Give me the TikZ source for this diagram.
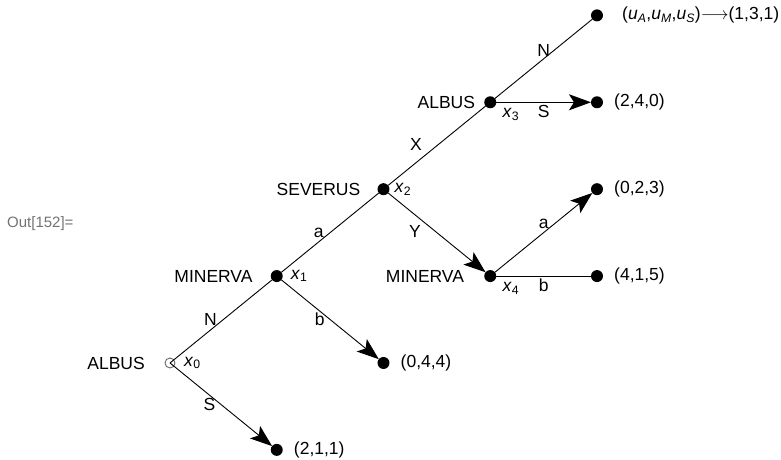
\documentclass[tikz,border=0pt]{standalone}
\usepackage{fontspec}
\setmainfont{Liberation Sans}
\usetikzlibrary{arrows.meta,positioning}

\newcommand{\xk}[1]{\textit{x}\textsubscript{#1}}
\newcommand{\uk}[1]{\textit{u}\textsubscript{\textit{#1}}}

\begin{document}
\begin{tikzpicture}[x=106.75pt, y=86.9pt,
  font=\fontsize{17.5}{21}\selectfont,
  dot/.style={circle, fill=black, inner sep=0pt, outer sep=0pt, minimum size=12pt},
  root/.style={circle, draw=black!60, line width=0.9pt, inner sep=0pt, outer sep=0pt, minimum size=10pt},
  edge/.style={line width=0.9pt},
  move/.style={edge, -{Stealth[length=22pt, width=16pt, inset=5pt]}},
  elbl/.style={inner sep=0pt},
  xlbl/.style={inner sep=0pt},
  player/.style={inner sep=0pt},
  payoff/.style={inner sep=0pt}]

  \useasboundingbox (-1.5925,-1.1162) rectangle (5.7237,4.177);

  \node[anchor=west, text=black!55, inner sep=0pt, font=\fontsize{15}{18}\selectfont] (out) at (-1.527,1.6) {Out[152]=};

  % decision nodes
  \node[root] (x0) at (0,0) {};
  \node[dot] (x1) at (1,1) {};
  \node[dot] (x2) at (2,2) {};
  \node[dot] (x3) at (3,3) {};
  \node[dot] (x4) at (3,1) {};

  % terminal nodes
  \node[dot] (t131) at (4,4) {};
  \node[dot] (t240) at (4,3) {};
  \node[dot] (t023) at (4,2) {};
  \node[dot] (t415) at (4,1) {};
  \node[dot] (t044) at (2,0) {};
  \node[dot] (t211) at (1,-1) {};

  % who moves
  \node[player, left=20pt of x0] (p0) {ALBUS};
  \node[player, left=18pt of x1] (p1) {MINERVA};
  \node[player, left=17pt of x2] (p2) {SEVERUS};
  \node[player, left=9pt of x3] (p3) {ALBUS};
  \node[player, left=20pt of x4] (p4) {MINERVA};

  \node[xlbl, right=9pt of x0] (l0) {\xk{0}};
  \node[xlbl, right=8pt of x1] (l1) {\xk{1}};
  \node[xlbl, right=5pt of x2] (l2) {\xk{2}};
  \node[xlbl, below right=2pt and 8pt of x3] (l3) {\xk{3}};
  \node[xlbl, below right=2pt and 8pt of x4] (l4) {\xk{4}};

  % payoffs
  \node[payoff, right=19pt of t131] (u131) {(\uk{A},\uk{M},\uk{S})$\longrightarrow$(1,3,1)};
  \node[payoff, right=11pt of t240] (u240) {(2,4,0)};
  \node[payoff, right=11pt of t023] (u023) {(0,2,3)};
  \node[payoff, right=11pt of t415] (u415) {(4,1,5)};
  \node[payoff, right=11pt of t044] (u044) {(0,4,4)};
  \node[payoff, right=11pt of t211] (u211) {(2,1,1)};

  % moves
  \draw[edge] (x0.center) -- node[elbl, xshift=-10.5pt, yshift=1.5pt] (m0N) {N} (x1);
  \draw[move] (x0.center) -- node[elbl, xshift=-11.5pt] (m0S) {S} (t211);
  \draw[edge] (x1) -- node[elbl, xshift=-11.5pt] (m1a) {a} (x2);
  \draw[move] (x1) -- node[elbl, xshift=-10.5pt] (m1b) {b} (t044);
  \draw[edge] (x2) -- node[elbl, xshift=-21pt, yshift=1.5pt] (m2X) {X} (x3);
  \draw[move] (x2) -- node[elbl, xshift=-22pt, yshift=1.5pt] (m2Y) {Y} (x4);
  \draw[edge] (x3) -- node[elbl, yshift=8.5pt] (m3N) {N} (t131);
  \draw[move] (x3) -- node[elbl, yshift=-9pt] (m3S) {S} (t240);
  \draw[move] (x4) -- node[elbl, yshift=8.5pt] (m4a) {a} (t023);
  \draw[edge] (x4) -- node[elbl, yshift=-9pt] (m4b) {b} (t415);
\end{tikzpicture}
\end{document}
